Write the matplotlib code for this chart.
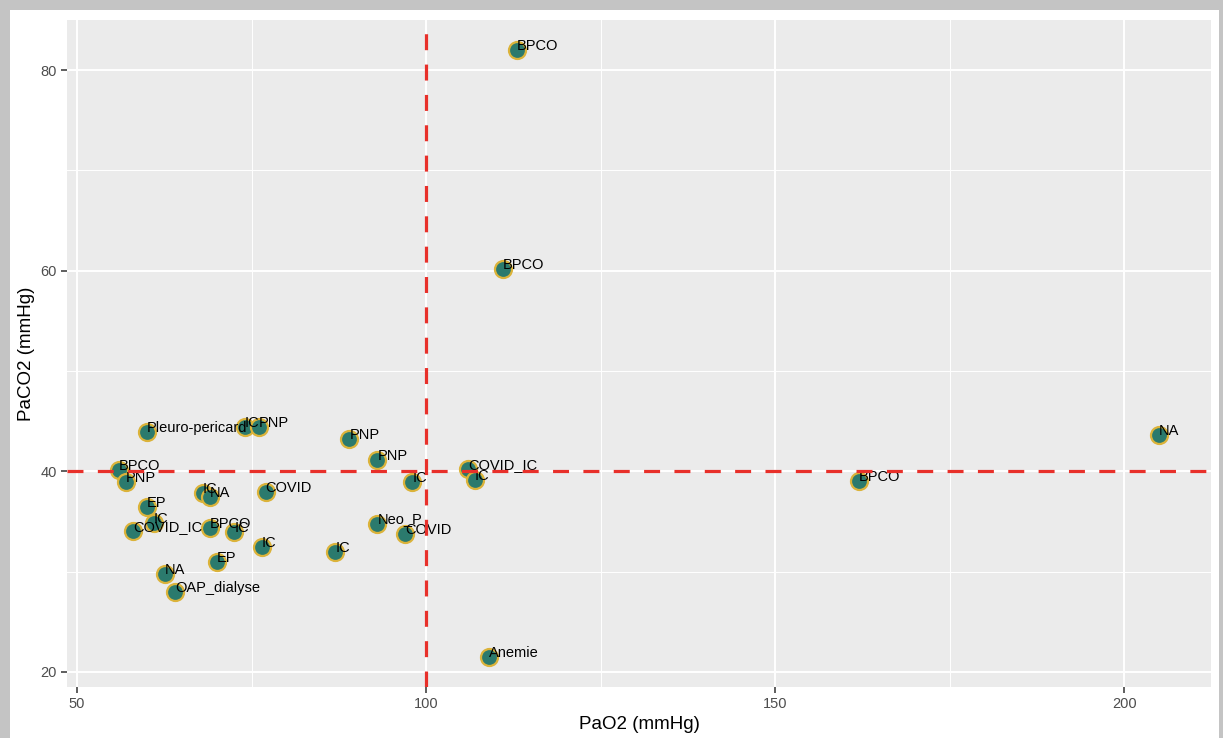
import matplotlib.pyplot as plt
from matplotlib.patches import Rectangle

# PaO2 / PaCO2 values
pao2 = [113, 111, 205, 162, 109, 106, 107, 98, 89, 93,
        93, 97, 87, 76.5, 77, 74, 76, 60, 56, 57,
        60, 61, 58, 68, 69, 69, 72.5, 70, 62.6, 64]
paco2 = [82, 60.2, 43.6, 39, 21.5, 40.2, 39.1, 38.9, 43.2, 41.1,
         34.8, 33.8, 32, 32.5, 37.9, 44.4, 44.4, 43.9, 40.1, 38.9,
         36.4, 34.9, 34.1, 37.8, 37.4, 34.4, 34, 31, 29.8, 28]
labels = ['BPCO', 'BPCO', 'NA', 'BPCO', 'Anemie', 'COVID_IC', 'IC', 'IC', 'PNP', 'PNP',
          'Neo_P', 'COVID', 'IC', 'IC', 'COVID', 'IC', 'PNP', 'Pleuro-pericard', 'BPCO', 'PNP',
          'EP', 'IC', 'COVID_IC', 'IC', 'NA', 'BPCO', 'IC', 'EP', 'NA', 'OAP_dialyse']

x_ref = 100
y_ref = 40

plt.rcParams['font.family'] = ['Liberation Sans', 'DejaVu Sans']

W, H = 1223, 738
fig = plt.figure(figsize=(W / 100, H / 100), dpi=100)
fig.patch.set_facecolor('#c4c4c4')
# white card behind the plot
fig.patches.append(Rectangle((10 / W, 0), (1219 - 10) / W, (H - 10) / H,
                             transform=fig.transFigure, facecolor='white',
                             edgecolor='none', zorder=-10))

ax = fig.add_axes([67 / W, (H - 687) / H, (1211 - 67) / W, (687 - 20) / H])
ax.set_facecolor('#EBEBEB')
for s in ax.spines.values():
    s.set_visible(False)

ax.set_xlim(48.55, 212.45)
ax.set_ylim(18.5, 85.0)
ax.set_xticks([50, 100, 150, 200])
ax.set_yticks([20, 40, 60, 80])
ax.set_xticks([75, 125, 175], minor=True)
ax.set_yticks([30, 50, 70], minor=True)
ax.grid(which='major', color='white', linewidth=1.4)
ax.grid(which='minor', color='white', linewidth=0.7)
ax.set_axisbelow(True)
ax.tick_params(which='major', length=4, width=1.1, color='#333333',
               labelcolor='#4D4D4D', labelsize=10.5)
ax.tick_params(which='minor', length=0)

ax.scatter(pao2, paco2, s=150, color='#2b7a6d', edgecolors='#dbb33a',
           linewidths=1.6, zorder=3)
for x, y, t in zip(pao2, paco2, labels):
    ax.text(x, y, t, ha='left', va='baseline', fontsize=10.5,
            color='black', zorder=4)

ax.axvline(x_ref, color='#e8302a', linewidth=2.3, dashes=(5, 4.5), zorder=5)
ax.axhline(y_ref, color='#e8302a', linewidth=2.3, dashes=(5, 4.5), zorder=5)

ax.set_xlabel('PaO2 (mmHg)', fontsize=13.5, labelpad=3)
ax.set_ylabel('PaCO2 (mmHg)', fontsize=13.5, labelpad=4)

fig.savefig('out.png', dpi=100, facecolor=fig.get_facecolor())
